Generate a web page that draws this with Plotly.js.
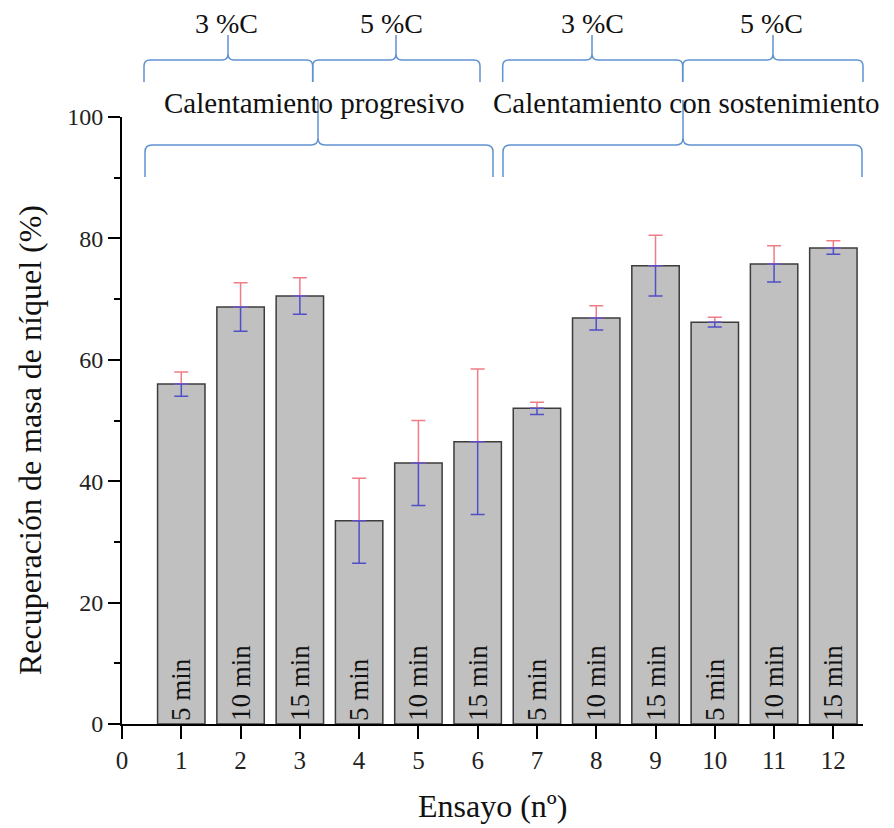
<!DOCTYPE html>
<html>
<head>
<meta charset="utf-8">
<script src="https://cdn.plot.ly/plotly-3.0.1.min.js"></script>
<style>html,body{margin:0;padding:0;background:#fff;}#chart{width:894px;height:828px;}</style>
</head>
<body>
<div id="chart"></div>
<script>
// ---- data ----
const ensayo = [1, 2, 3, 4, 5, 6, 7, 8, 9, 10, 11, 12];
const recuperacion = [56.0, 68.7, 70.5, 33.5, 43.0, 46.5, 52.0, 66.9, 75.5, 66.2, 75.8, 78.4];
const errSup = [2.0, 4.0, 3.0, 7.0, 7.0, 12.0, 1.0, 2.0, 5.0, 0.8, 3.0, 1.2];
const errInf = [2.0, 4.0, 3.0, 7.0, 7.0, 12.0, 1.0, 2.0, 5.0, 0.8, 3.0, 1.0];
const tiempo = ["5 min", "10 min", "15 min", "5 min", "10 min", "15 min",
                "5 min", "10 min", "15 min", "5 min", "10 min", "15 min"];
const xTicks = [0, 1, 2, 3, 4, 5, 6, 7, 8, 9, 10, 11, 12];
const yTicks = [0, 20, 40, 60, 80, 100];
const carbono = ["3 %C", "5 %C", "3 %C", "5 %C"];
const tratamiento = ["Calentamiento progresivo", "Calentamiento con sostenimiento"];

// ---- layout geometry (pixels) ----
const W = 894, H = 828;
const L = 122, R = 31, T = 117, B = 104;
const PW = W - L - R, PH = H - T - B;
const px = x => (x - L) / PW;
const py = y => (H - B - y) / PH;

const FONT = "Liberation Serif, Times New Roman, serif";
const braceColor = "#5f92cf";

function bracePath(x0, x1, xt, yh, yend, ytip, r) {
  const P = (x, y) => px(x).toFixed(5) + "," + py(y).toFixed(5);
  return "M" + P(x0, yend) + " L" + P(x0, yh + r) +
    " Q" + P(x0, yh) + " " + P(x0 + r, yh) +
    " L" + P(xt - r, yh) +
    " Q" + P(xt, yh) + " " + P(xt, yh - r) +
    " L" + P(xt, ytip) +
    " M" + P(xt, yh - r) +
    " Q" + P(xt, yh) + " " + P(xt + r, yh) +
    " L" + P(x1 - r, yh) +
    " Q" + P(x1, yh) + " " + P(x1, yh + r) +
    " L" + P(x1, yend);
}

const smallBraces = [[144, 312.7, 228], [312.7, 480, 396], [502.7, 682.7, 592], [682.7, 863, 773]];
const bigBraces = [[145, 493, 318], [503, 862, 683]];

const shapes = [];
smallBraces.forEach(b => shapes.push({
  type: "path", xref: "paper", yref: "paper",
  path: bracePath(b[0], b[1], b[2], 60, 82, 35, 6),
  line: {color: braceColor, width: 1.5}
}));
bigBraces.forEach(b => shapes.push({
  type: "path", xref: "paper", yref: "paper",
  path: bracePath(b[0], b[1], b[2], 145, 177, 100, 7),
  line: {color: braceColor, width: 1.5}
}));

const annotations = [];
const carbonoX = [226, 391, 592, 771];
carbono.forEach((t, i) => annotations.push({
  text: t, xref: "paper", yref: "paper", x: px(carbonoX[i]), y: py(24),
  xanchor: "center", yanchor: "middle", showarrow: false,
  font: {family: FONT, size: 28, color: "#111"}
}));
const tratX = [314, 686];
tratamiento.forEach((t, i) => annotations.push({
  text: t, xref: "paper", yref: "paper", x: px(tratX[i]), y: py(103),
  xanchor: "center", yanchor: "middle", showarrow: false,
  font: {family: FONT, size: 29, color: "#111"}
}));
annotations.push({
  text: "Recuperación de masa de níquel (%)", xref: "paper", yref: "paper",
  x: px(30), y: py(440), xanchor: "center", yanchor: "middle", textangle: -90,
  showarrow: false, font: {family: FONT, size: 32, color: "#111"}
});
annotations.push({
  text: "Ensayo (nº)", xref: "paper", yref: "paper",
  x: px(492), y: py(806), xanchor: "center", yanchor: "middle",
  showarrow: false, font: {family: FONT, size: 32, color: "#111"}
});

const zeros = ensayo.map(() => 0);

const traces = [
  {
    type: "bar", x: ensayo, y: recuperacion, width: 0.8,
    marker: {color: "#c0c0c0", line: {color: "#3c3c3c", width: 1.5}},
    text: tiempo, textposition: "inside", insidetextanchor: "start",
    textangle: -90, constraintext: "none",
    textfont: {family: FONT, size: 27, color: "#111"},
    hoverinfo: "none", showlegend: false
  },
  {
    type: "scatter", mode: "markers", x: ensayo, y: recuperacion,
    marker: {size: 1, opacity: 0},
    error_y: {type: "data", symmetric: false, array: errSup, arrayminus: zeros,
              color: "#f07c86", thickness: 1.5, width: 7},
    hoverinfo: "none", showlegend: false
  },
  {
    type: "scatter", mode: "markers", x: ensayo, y: recuperacion,
    marker: {size: 1, opacity: 0},
    error_y: {type: "data", symmetric: false, array: zeros, arrayminus: errInf,
              color: "#4f4fc8", thickness: 1.5, width: 7},
    hoverinfo: "none", showlegend: false
  }
];

const layout = {
  width: W, height: H,
  margin: {l: L, r: R, t: T, b: B, pad: 0},
  paper_bgcolor: "#fff", plot_bgcolor: "#fff",
  font: {family: FONT, color: "#111"},
  showlegend: false,
  xaxis: {
    range: [0, 12.5], tickvals: xTicks, ticktext: xTicks.map(String),
    ticks: "outside", ticklen: 13, tickwidth: 2, tickcolor: "#000",
    showline: true, linecolor: "#000", linewidth: 2,
    showgrid: false, zeroline: false,
    tickfont: {family: FONT, size: 25, color: "#222"}
  },
  yaxis: {
    range: [0, 100], tickvals: yTicks, ticktext: yTicks.map(String),
    ticks: "outside", ticklen: 12, tickwidth: 2, tickcolor: "#000",
    minor: {dtick: 10, tick0: 0, ticks: "outside", ticklen: 6, tickwidth: 2, tickcolor: "#000", showgrid: false},
    showline: true, linecolor: "#000", linewidth: 2,
    showgrid: false, zeroline: false,
    tickfont: {family: FONT, size: 24, color: "#222"}
  },
  shapes: shapes,
  annotations: annotations
};

Plotly.newPlot("chart", traces, layout, {staticPlot: true, displayModeBar: false});
</script>
</body>
</html>
